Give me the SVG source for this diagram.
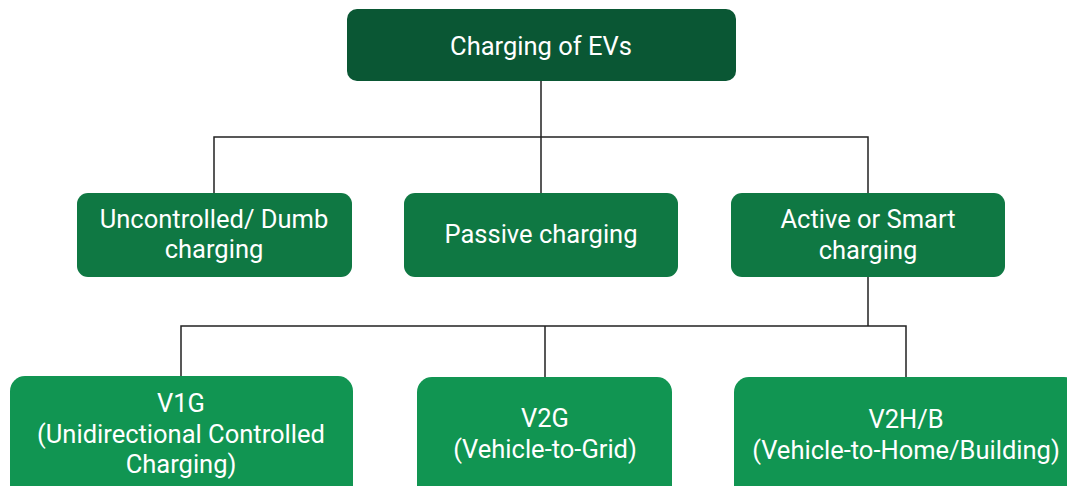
<svg xmlns="http://www.w3.org/2000/svg" width="1067" height="486" viewBox="0 0 1067 486">
<style>
.t{font-family:Roboto,"Liberation Sans",sans-serif;font-size:25.5px;fill:#ffffff;text-anchor:middle}
.c{fill:none;stroke:#222222;stroke-width:1.5}
</style>
<rect width="1067" height="486" fill="#ffffff"/>
<g id="connectors">
<path class="c" d="M541 81V137M214 193V137H868V193M541 137V193"/>
<path class="c" d="M868 277V326M181 377V326H906V377M545 326V377"/>
</g>
<g id="root">
<rect x="347" y="9" width="389" height="72" rx="10" fill="#0a5734"/>
<text class="t" x="541" y="55">Charging of EVs</text>
</g>
<g id="uncontrolled">
<rect x="77" y="193" width="275" height="84" rx="11" fill="#0f7843"/>
<text class="t" x="214" y="228">Uncontrolled/ Dumb</text>
<text class="t" x="214" y="258">charging</text>
</g>
<g id="passive">
<rect x="404" y="193" width="274" height="84" rx="11" fill="#0f7843"/>
<text class="t" x="541" y="243">Passive charging</text>
</g>
<g id="active">
<rect x="731" y="193" width="274" height="84" rx="11" fill="#0f7843"/>
<text class="t" x="868" y="228">Active or Smart</text>
<text class="t" x="868" y="259">charging</text>
</g>
<g id="v1g">
<rect x="10" y="376" width="343" height="130" rx="15" fill="#119552"/>
<text class="t" x="181" y="412">V1G</text>
<text class="t" x="181" y="443">(Unidirectional Controlled</text>
<text class="t" x="181" y="473">Charging)</text>
</g>
<g id="v2g">
<rect x="417" y="377" width="255" height="130" rx="15" fill="#119552"/>
<text class="t" x="545" y="427">V2G</text>
<text class="t" x="545" y="458">(Vehicle-to-Grid)</text>
</g>
<g id="v2hb">
<rect x="734" y="377" width="345" height="130" rx="15" fill="#119552"/>
<text class="t" x="906" y="428">V2H/B</text>
<text class="t" x="906" y="459">(Vehicle-to-Home/Building)</text>
</g>
</svg>
